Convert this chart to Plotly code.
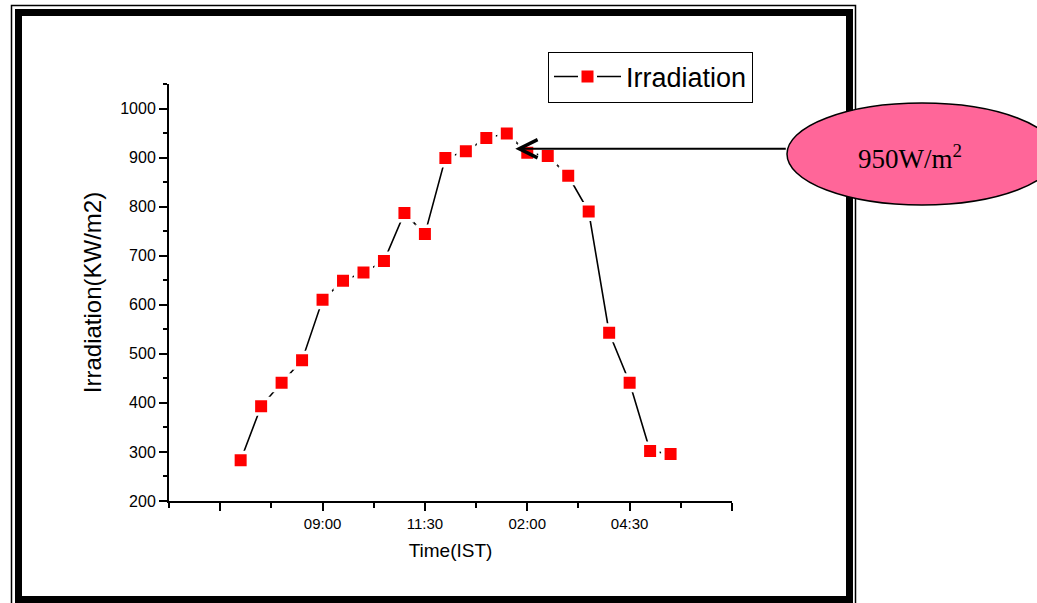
import plotly.graph_objects as go

# ---- data ----
times = ["07:00", "07:30", "08:00", "08:30", "09:00", "09:30", "10:00", "10:30",
         "11:00", "11:30", "12:00", "12:30", "13:00", "13:30", "14:00", "14:30",
         "15:00", "15:30", "16:00", "16:30", "17:00", "17:30"]
irradiation = [283, 393, 441, 487, 610, 649, 666, 689, 787, 744, 899, 913,
               940, 949, 910, 903, 863, 790, 543, 441, 302, 296]
tick_vals = [6.5, 9.0, 11.5, 14.0, 16.5, 19.0]
tick_text = ["", "09:00", "11:30", "02:00", "04:30", ""]
minor_vals = [5.25, 7.75, 10.25, 12.75, 15.25, 17.75]

hours = [int(t.split(":")[0]) + int(t.split(":")[1]) / 60 for t in times]

# ---- layout geometry (pixels) ----
FW, FH = 1037, 603
L, T, PW, PH = 169, 84, 563, 417
R = FW - L - PW
B = FH - T - PH


def px(x):
    return (x - L) / PW


def py(y):
    return (T + PH - y) / PH


FONT = "Arial, Liberation Sans, sans-serif"

fig = go.Figure()
fig.add_trace(go.Scatter(
    x=hours, y=irradiation, mode="lines+markers", name="Irradiation",
    line=dict(color="black", width=1.6),
    marker=dict(symbol="square", size=15.5, color="#FF0000",
                line=dict(color="white", width=3.5)),
))

shapes = [
    # outer thin frame
    dict(type="rect", xref="paper", yref="paper",
         x0=px(11.5), x1=px(855.5), y0=py(606), y1=py(5.5),
         line=dict(color="black", width=1.5), layer="below"),
    # thick frame
    dict(type="rect", xref="paper", yref="paper",
         x0=px(18.5), x1=px(849.5), y0=py(599.5), y1=py(12.5),
         line=dict(color="black", width=7), layer="below"),
    # ellipse callout
    dict(type="circle", xref="paper", yref="paper",
         x0=px(787), x1=px(1057), y0=py(205), y1=py(103),
         fillcolor="#FF6699", line=dict(color="black", width=1.5), layer="above"),
]

annotations = [
    dict(x=13.707, y=918, xref="x", yref="y", text="", showarrow=True,
         ax=787 - 515, ay=0, axref="pixel", ayref="pixel",
         arrowhead=5, arrowsize=1.8, arrowwidth=2, arrowcolor="black"),
    dict(x=px(910), y=py(157), xref="paper", yref="paper",
         xanchor="center", yanchor="middle",
         text="950W/m<sup>2</sup>", showarrow=False,
         font=dict(family="Liberation Serif, Times New Roman, serif", size=27, color="black")),
]

fig.update_layout(
    width=FW, height=FH,
    margin=dict(l=L, r=R, t=T, b=B),
    paper_bgcolor="white", plot_bgcolor="white",
    font=dict(family=FONT, color="black"),
    showlegend=True,
    legend=dict(x=px(548), y=py(51.5), xanchor="left", yanchor="top",
                bordercolor="black", borderwidth=1, bgcolor="white",
                font=dict(size=27, family=FONT, color="black"),
                itemwidth=67, itemsizing="trace", tracegroupgap=0),
    shapes=shapes,
    annotations=annotations,
    xaxis=dict(range=[5.25, 19.0], tickmode="array", tickvals=tick_vals, ticktext=tick_text,
               showline=True, linecolor="black", linewidth=2, showgrid=False, zeroline=False,
               ticks="outside", ticklen=8, tickwidth=1.5, tickcolor="black",
               tickfont=dict(size=15, family=FONT),
               minor=dict(tickvals=minor_vals, ticks="outside", ticklen=5, tickwidth=1.5,
                          tickcolor="black", showgrid=False),
               title=dict(text="Time(IST)", font=dict(size=19, family=FONT), standoff=13)),
    yaxis=dict(range=[200, 1050], tick0=200, dtick=100,
               showline=True, linecolor="black", linewidth=2, showgrid=False, zeroline=False,
               ticks="outside", ticklen=8, tickwidth=1.5, tickcolor="black",
               tickfont=dict(size=16, family=FONT),
               minor=dict(dtick=50, tick0=200, ticks="outside", ticklen=4, tickwidth=1.5,
                          tickcolor="black", showgrid=False),
               title=dict(text="Irradiation(KW/m2)", font=dict(size=24, family=FONT), standoff=12)),
)

fig.write_html("out.html")
